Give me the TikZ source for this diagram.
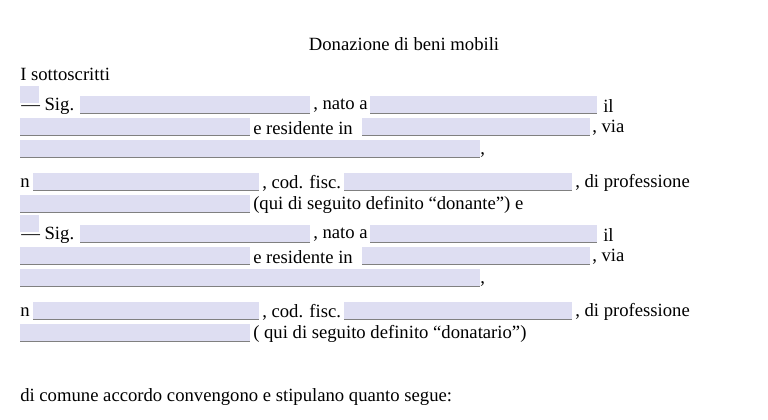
\documentclass[tikz,border=0pt]{standalone}
\usepackage{fontspec}
\setmainfont{Liberation Serif}
\definecolor{fieldblue}{RGB}{222,222,242}
\begin{document}
\begin{tikzpicture}[x=0.75pt,y=-0.75pt,
    field/.style={fill=fieldblue,draw=none},
    txt/.style={anchor=west,inner sep=0pt,font=\fontsize{14}{16}\selectfont}
  ]
  \useasboundingbox (0,0) rectangle (768,420);
  % title
  \node[txt,anchor=center] (title) at (404,44) {Donazione di beni mobili};
  \node[txt] (intro) at (20,74) {I sottoscritti};
  % two parties
  \foreach \dy/\last/\role in {0/ (qui di seguito definito “donante”) e/a, 129/( qui di seguito definito “donatario”)/b}{
    \begin{scope}[yshift=-\dy*0.75pt]
      \fill[field] (20,86) rectangle (39,103);
      \node[txt] at (21,106) {— Sig.};
      \fill[field] (80,96) rectangle (310,113); \draw[gray] (80,113) -- (310,113);
      \node[txt] at (313,106) {, nato a};
      \fill[field] (370,96) rectangle (597,113); \draw[gray] (370,113) -- (597,113);
      \node[txt] at (603,106) {il};
      \fill[field] (20,118) rectangle (250,135); \draw[gray] (20,135) -- (250,135);
      \node[txt] at (253,128) {e residente in};
      \fill[field] (362,118) rectangle (590,135); \draw[gray] (362,135) -- (590,135);
      \node[txt] at (592,128) {, via};
      \fill[field] (20,140) rectangle (480,157); \draw[gray] (20,157) -- (480,157);
      \node[txt] at (480,155) {,};
      \node[txt] at (20,183) {n};
      \fill[field] (33,173) rectangle (259,190); \draw[gray] (33,190) -- (259,190);
      \node[txt] at (262,183) {, cod. fisc.};
      \fill[field] (344,173) rectangle (572,190); \draw[gray] (344,190) -- (572,190);
      \node[txt] at (575,183) {, di professione};
      \fill[field] (20,195) rectangle (250,212); \draw[gray] (20,212) -- (250,212);
      \node[txt] at (253,205) {\last};
    \end{scope}
  }
  \node[txt] (closing) at (20,397) {di comune accordo convengono e stipulano quanto segue:};
\end{tikzpicture}
\end{document}
